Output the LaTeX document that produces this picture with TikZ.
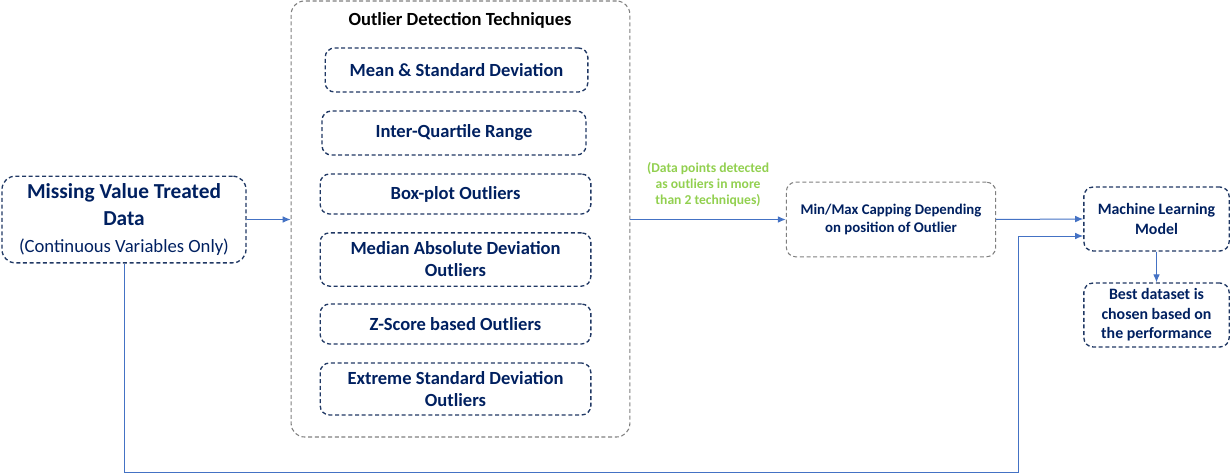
\documentclass[tikz,border=0pt]{standalone}
\usepackage{fontspec}
\setmainfont{Carlito}
\usetikzlibrary{positioning,arrows.meta}
\definecolor{navy}{HTML}{002060}
\definecolor{boxblue}{HTML}{203864}
\definecolor{lineblue}{HTML}{4472C4}
\definecolor{greytxt}{HTML}{7F7F7F}
\definecolor{greenlbl}{HTML}{92D050}
\tikzset{
  bluebox/.style={draw=boxblue,line width=1pt,dash pattern=on 3pt off 2pt,
    rounded corners=7pt,align=center,text=navy,inner sep=2pt},
  greybox/.style={draw=greytxt,line width=0.8pt,dash pattern=on 3pt off 2pt,
    rounded corners=7pt,align=center,inner sep=2pt},
  technique/.style={bluebox,minimum width=203pt,font=\fontsize{13.9}{16.5}\selectfont\bfseries},
  conn/.style={draw=lineblue,line width=0.75pt,->},
}
\begin{document}
\begin{tikzpicture}[>={Latex[length=6pt,width=5pt]},x=0.75pt,y=-0.75pt]
        \useasboundingbox (0,0) rectangle (1230,474);
        % outer group of techniques
        \node[greybox,minimum width=254pt,minimum height=327pt,rounded corners=10pt] (odt) at (460.5,219) {};
        \node[font=\fontsize{13.9}{16}\selectfont\bfseries] (title) at (460,20) {Outlier Detection Techniques};
        \node[technique,minimum width=197pt,minimum height=33pt] (mean) at (456.5,70) {Mean \& Standard Deviation};
        \node[technique,minimum width=198pt,minimum height=33pt] (iqr) at (454,133) {Inter-Quartile Range};
        \node[technique,minimum height=30pt] (boxplot) at (455.5,194) {Box-plot Outliers};
        \node[technique,minimum height=40pt] (mad) at (455.5,259.5) {Median Absolute Deviation\\Outliers};
        \node[technique,minimum height=30pt] (zscore) at (455.5,324) {Z-Score based Outliers};
        \node[technique,minimum height=39pt] (esd) at (455.5,389) {Extreme Standard Deviation\\Outliers};
        % input data
        \node[bluebox,minimum width=183pt,minimum height=65pt,rounded corners=10pt,
          font=\fontsize{16}{20}\selectfont\bfseries] (missing) at (124,219.5)
          {Missing Value Treated\\Data\\{\fontsize{14}{18}\selectfont\mdseries (Continuous Variables Only)}};
        % capping
        \node[greybox,minimum width=157pt,minimum height=56pt,text=navy,
          font=\fontsize{11.1}{13}\selectfont\bfseries] (capping) at (891,219.5)
          {Min/Max Capping Depending\\on position of Outlier};
        % model and result
        \node[bluebox,minimum width=109pt,minimum height=48pt,
          font=\fontsize{11.9}{14.5}\selectfont\bfseries] (ml) at (1156.5,219) {Machine Learning\\Model};
        \node[bluebox,minimum width=109pt,minimum height=48pt,
          font=\fontsize{11.9}{14.5}\selectfont\bfseries] (best) at (1156.5,315)
          {Best dataset is\\chosen based on\\the performance};
        \coordinate (bend) at (1018,472);
        % connectors
        \draw[conn] (missing.east) -- (odt.west |- missing.east);
        \draw[conn] (odt.east |- capping.west) -- (capping.west)
          node[midway,above=6pt,align=center,text=greenlbl,
          font=\fontsize{10.2}{12}\selectfont\bfseries] (lbl)
          {(Data points detected\\as outliers in more\\than 2 techniques)};
        \draw[conn] (capping.east) -- (ml.west);
        \draw[conn] (ml.south) -- (best.north);
        \draw[conn] (missing.south) |- (bend) |- ([yshift=-12.75pt]ml.west);
\end{tikzpicture}
\end{document}
